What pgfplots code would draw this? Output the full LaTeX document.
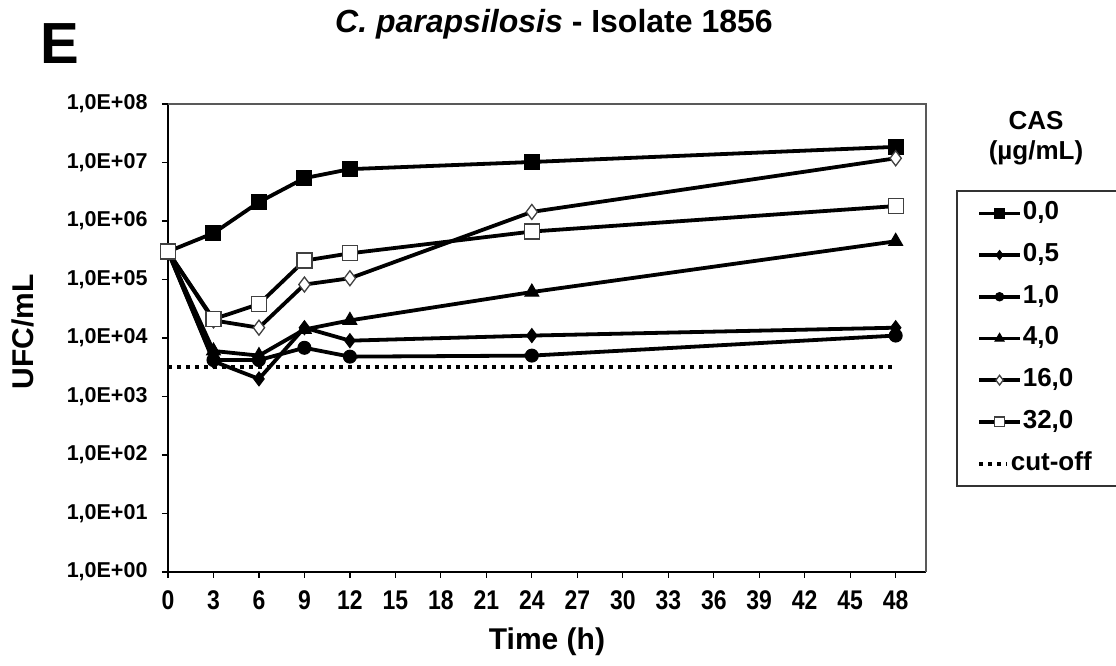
\documentclass[border=0pt]{standalone}
\usepackage{fontspec}
\setmainfont{Liberation Sans}
\usepackage{pgfplots}
\pgfplotsset{compat=1.18}
\begin{document}
\begin{tikzpicture}[x=1pt,y=1pt]
\useasboundingbox (0,0) rectangle (1116,666);
\begin{axis}[
  at={(168pt,94pt)}, anchor=south west,
  scale only axis, width=758pt, height=468pt,
  xmin=0, xmax=50, ymin=1, ymax=1e8, ymode=log,
  clip=false,
  axis x line*=bottom, axis y line*=left,
  axis line style={line width=1.6pt, black},
  xtick={0,3,...,48},
  xticklabels={0,3,6,9,12,15,18,21,24,27,30,33,36,39,42,45,48},
  ytick={1,1e1,1e2,1e3,1e4,1e5,1e6,1e7,1e8},
  yticklabels={{1,0E+00},{1,0E+01},{1,0E+02},{1,0E+03},{1,0E+04},{1,0E+05},{1,0E+06},{1,0E+07},{1,0E+08}},
  yminorticks=false, xminorticks=false,
  tick align=outside, major tick length=6pt,
  tick style={black, line width=1.2pt},
  yticklabel style={font=\fontsize{21.5}{24}\selectfont\bfseries, anchor=east, xshift=-11pt},
  xticklabel style={font=\fontsize{27}{30}\selectfont\bfseries, xscale=0.85, yshift=-9pt},
  every axis plot/.append style={line width=3.8pt, black},
  legend style={
    at={(1.040,0.816)}, anchor=north west,
    draw=black!80, line width=1.5pt, fill=white,
    inner xsep=20pt, inner ysep=11pt,
    font=\fontsize{26}{28}\selectfont\bfseries,
    row sep=18.7pt, column sep=1pt,
    nodes={inner sep=0pt, text height=18pt, text depth=5pt},
    cells={anchor=west},
  },
  legend image code/.code={
    \draw[mark repeat=2, mark phase=2, #1, line width=3.5pt, every mark/.append style={scale=0.65}]
      plot coordinates {(0pt,0pt) (20.5pt,0pt) (41pt,0pt)};
  },
]
\addplot[mark=square*, mark size=7.5pt, mark options={solid, fill=black, line width=1pt}]
  coordinates {(0,3e5) (3,6.2e5) (6,2.1e6) (9,5.4e6) (12,7.7e6) (24,1.02e7) (48,1.85e7)};
\addlegendentry{\makebox[84pt][l]{0,0}}
\addplot[mark=diamond*, mark size=7pt, mark options={solid, fill=black, line width=1pt}]
  coordinates {(0,3e5) (3,4.0e3) (6,2.0e3) (9,1.5e4) (12,9.0e3) (24,1.1e4) (48,1.5e4)};
\addlegendentry{0,5}
\addplot[mark=*, mark size=6.5pt, mark options={solid, fill=black, line width=1pt}]
  coordinates {(0,3e5) (3,4.2e3) (6,4.2e3) (9,6.8e3) (12,4.8e3) (24,5.0e3) (48,1.1e4)};
\addlegendentry{1,0}
\addplot[mark=triangle*, mark size=8pt, mark options={solid, fill=black, line width=1pt}]
  coordinates {(0,3e5) (3,6.0e3) (6,5.0e3) (9,1.4e4) (12,2.0e4) (24,6.1e4) (48,4.5e5)};
\addlegendentry{4,0}
\addplot[mark=diamond*, mark size=7.5pt, mark options={solid, fill=white, draw=black!75, line width=1.3pt}]
  coordinates {(0,3e5) (3,2.0e4) (6,1.5e4) (9,8.2e4) (12,1.05e5) (24,1.43e6) (48,1.18e7)};
\addlegendentry{16,0}
\addplot[mark=square*, mark size=7.5pt, mark options={solid, fill=white, draw=black!75, line width=1.3pt}]
  coordinates {(0,3e5) (3,2.1e4) (6,3.8e4) (9,2.1e5) (12,2.8e5) (24,6.6e5) (48,1.8e6)};
\addlegendentry{32,0}
\addplot[no marks, line width=4pt, dash pattern=on 4pt off 5pt,
  legend image code/.code={\draw[line width=4pt, dash pattern=on 4pt off 5pt] (0pt,0pt) -- (28pt,0pt);}]
  coordinates {(0,3.2e3) (48,3.2e3)};
\addlegendentry{\hspace*{-12pt}cut-off}
\draw[black!65, line width=1.5pt] (rel axis cs:0,1) -- (rel axis cs:1,1) -- (rel axis cs:1,0);
\end{axis}
\node[font=\fontsize{58}{60}\selectfont\bfseries] at (60,622) {E};
\node[font=\fontsize{32}{36}\selectfont\bfseries] at (554,642) {\textit{C. parapsilosis} - Isolate 1856};
\node[rotate=90, font=\fontsize{30}{34}\selectfont\bfseries] at (23,334) {UFC/mL};
\node[font=\fontsize{30}{34}\selectfont\bfseries] at (547,24) {Time (h)};
\node[align=center, font=\fontsize{26}{30}\selectfont\bfseries] at (1036,528) {CAS\\(µg/mL)};
\end{tikzpicture}
\end{document}
